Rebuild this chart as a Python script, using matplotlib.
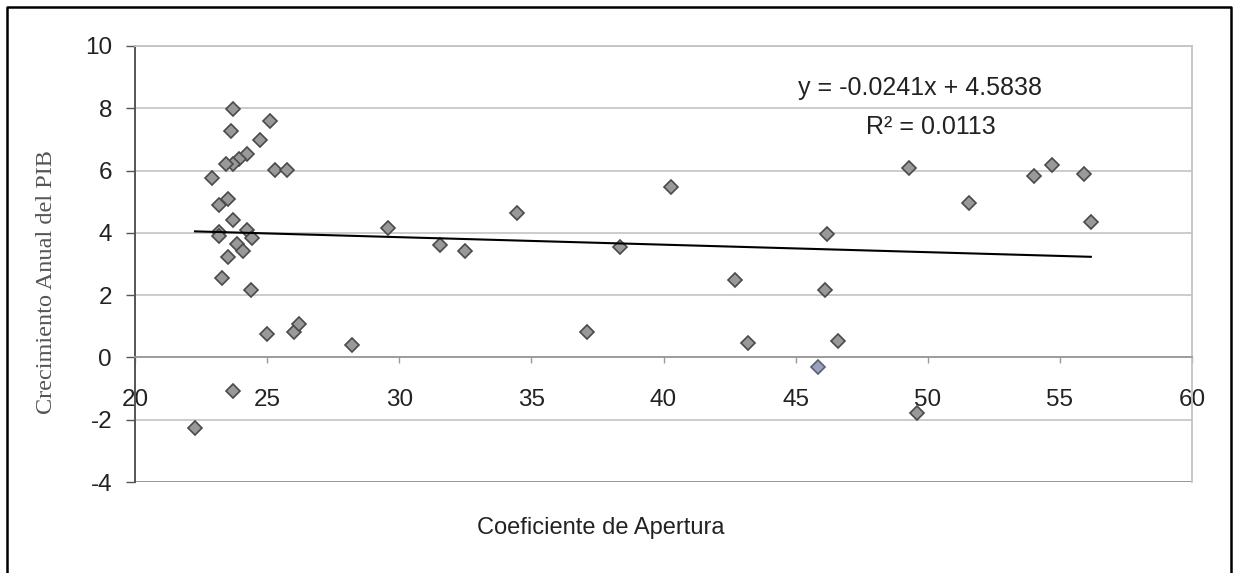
import numpy as np
import matplotlib.pyplot as plt
from matplotlib.lines import Line2D

plt.rcParams['font.family'] = ['Liberation Sans', 'DejaVu Sans']
plt.rcParams['axes.unicode_minus'] = False

# datos
apertura = [23.72, 25.09, 23.63, 24.73, 24.22, 23.92, 23.69, 23.44, 25.30, 25.77,
            22.93, 23.53, 23.19, 23.72, 23.16, 23.19, 24.22, 24.43, 23.86, 24.07,
            23.53, 23.29, 24.40, 24.98, 26.00, 26.20, 23.72, 22.27,
            29.58, 31.54, 32.47, 34.45, 40.29, 38.37, 28.22, 37.11,
            49.27, 51.56, 54.01, 54.69, 55.91, 56.17, 46.19, 42.70, 46.11,
            43.21, 46.61, 49.60]
crecimiento = [7.98, 7.60, 7.28, 6.97, 6.52, 6.37, 6.22, 6.22, 6.01, 6.01,
               5.75, 5.09, 4.89, 4.42, 4.02, 3.89, 4.10, 3.84, 3.65, 3.41,
               3.23, 2.54, 2.17, 0.75, 0.82, 1.07, -1.09, -2.27,
               4.15, 3.60, 3.42, 4.64, 5.46, 3.54, 0.39, 0.83,
               6.07, 4.96, 5.83, 6.18, 5.88, 4.34, 3.97, 2.49, 2.18,
               0.47, 0.52, -1.77]
apertura_azul = [45.83]
crecimiento_azul = [-0.31]

pendiente = -0.0241
intercepto = 4.5838
r2 = 0.0113

xticks = list(range(20, 61, 5))
yticks = list(range(-4, 11, 2))

fig = plt.figure(figsize=(12.33, 5.73), dpi=100)
ax = fig.add_axes([0.1095, 0.1588, 0.8573, 0.7610])

ax.set_xlim(20, 60)
ax.set_ylim(-4, 10)
ax.set_xticks(xticks)
ax.set_yticks(yticks)
ax.grid(axis='y', color='#c8c8c8', lw=1.3)
ax.set_axisbelow(True)

ax.spines['left'].set_color('#555555')
ax.spines['left'].set_linewidth(1.4)
ax.spines['bottom'].set_position(('data', 0))
ax.spines['bottom'].set_color('#9a9a9a')
ax.spines['bottom'].set_linewidth(1.3)
for s in ['top', 'right']:
    ax.spines[s].set_color('#c4c4c4')
    ax.spines[s].set_linewidth(1.3)
ax.axhline(-4, color='#8a8a8a', lw=1.8, zorder=2)

ax.tick_params(axis='y', direction='out', length=6.5, width=1, color='#555555',
               pad=10, labelsize=17.5, labelcolor='#222222')
ax.tick_params(axis='x', direction='out', length=4, width=1, color='#9a9a9a',
               pad=19, labelsize=17.5, labelcolor='#222222')

# puntos
ax.plot(apertura, crecimiento, 'D', ms=7, mfc='#999999', mec='#4a4a4a',
        mew=1.2, ls='none', zorder=3, clip_on=False)
ax.plot(apertura_azul, crecimiento_azul, 'D', ms=7, mfc='#98a3bd', mec='#5a6070',
        mew=1.2, ls='none', zorder=3)

# linea de tendencia
xs = np.array([min(apertura), max(apertura)])
ax.plot(xs, pendiente * xs + intercepto, color='black', lw=1.5, zorder=4)

fig.text(798 / 1233, 1 - 88 / 573, f'y = {pendiente:.4f}x + {intercepto:.4f}',
         fontsize=18, color='#222222', ha='left', va='center')
fig.text(866 / 1233, 1 - 127 / 573, f'R² = {r2:.4f}',
         fontsize=18, color='#222222', ha='left', va='center')

fig.text(601 / 1233, 1 - 528 / 573, 'Coeficiente de Apertura',
         fontsize=17, color='#222222', ha='center', va='center')
fig.text(47 / 1233, 1 - 282 / 573, 'Crecimiento Anual del PIB',
         family=['Liberation Serif', 'DejaVu Serif'], fontsize=17.5,
         color='#555555', rotation=90, ha='center', va='center')

# marco exterior
fig.add_artist(Line2D([7 / 1233, 7 / 1233, 1231 / 1233, 1231 / 1233],
                      [-0.1, 1 - 7 / 573, 1 - 7 / 573, -0.1],
                      transform=fig.transFigure, color='black', lw=1.8))

fig.savefig('out.png', dpi=100)
